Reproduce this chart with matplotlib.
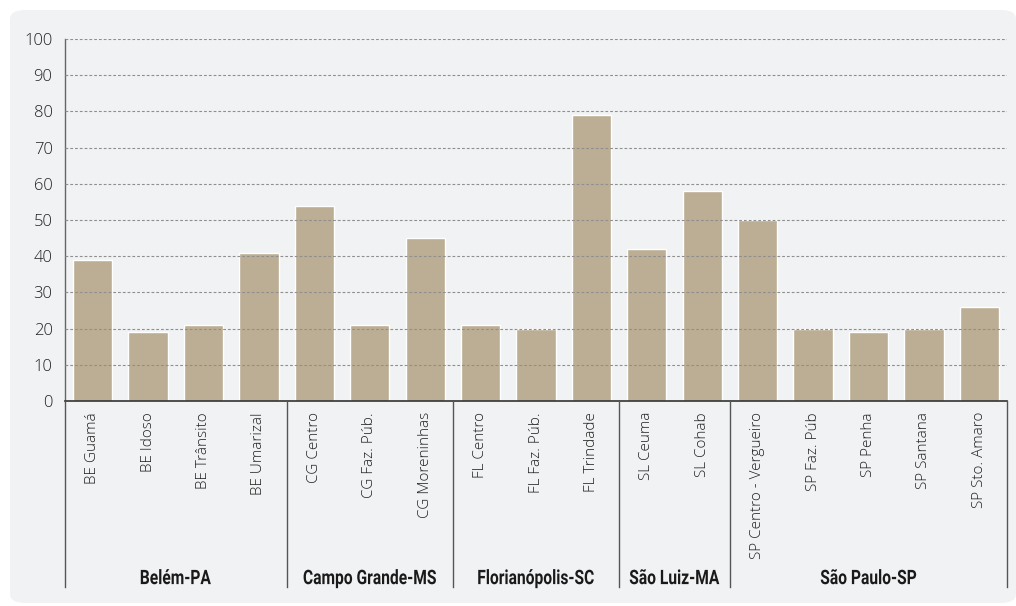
import matplotlib
matplotlib.use("Agg")
import matplotlib.pyplot as plt
import matplotlib.transforms as mtransforms
from matplotlib.patches import FancyBboxPatch, PathPatch
from matplotlib.textpath import TextPath
from matplotlib.font_manager import FontProperties

# data
labels = [
    "BE Guamá", "BE Idoso", "BE Trânsito", "BE Umarizal",
    "CG Centro", "CG Faz. Púb.", "CG Moreninhas",
    "FL Centro", "FL Faz. Púb.", "FL Trindade",
    "SL Ceuma", "SL Cohab",
    "SP Centro - Vergueiro", "SP Faz. Púb", "SP Penha", "SP Santana", "SP Sto. Amaro",
]
values = [39, 19, 21, 41, 54, 21, 45, 21, 20, 79, 42, 58, 50, 20, 19, 20, 26]
groups = ["Belém-PA", "Campo Grande-MS", "Florianópolis-SC", "São Luiz-MA", "São Paulo-SP"]
group_sizes = [4, 3, 3, 2, 5]

W, H = 1016, 606
fig = plt.figure(figsize=(W / 100, H / 100), dpi=100)
fig.patch.set_facecolor("white")

# rounded light panel behind the chart
bg = FancyBboxPatch((10 / W, 3 / H), (W - 10) / W, (H - 13) / H,
                    boxstyle="round,pad=0,rounding_size=0.015",
                    transform=fig.transFigure, facecolor="#f1f2f4",
                    edgecolor="none", zorder=-5)
fig.patches.append(bg)

x0, x1, y0, y1 = 65, 1007, 401, 39
ax = fig.add_axes([x0 / W, (H - y0) / H, (x1 - x0) / W, (y0 - y1) / H])
ax.set_zorder(2)
ax.set_facecolor("none")

x = list(range(len(values)))
ax.bar(x, values, width=0.71, color="#bcae94", edgecolor="white",
       linewidth=1.0, zorder=2)

ax.set_xlim(-0.5, len(values) - 0.5)
ax.set_ylim(0, 100)
for v in range(10, 101, 10):
    ax.axhline(v, color="#8f8f8f", linestyle=(0, (2.5, 1.8)), linewidth=0.8, zorder=3)

tick_font = "Open Sans"
ax.set_yticks(range(0, 101, 10))
ax.set_yticklabels([str(v) for v in range(0, 101, 10)], fontsize=12,
                   family=tick_font, fontweight="light", color="#222222")
ax.tick_params(axis="y", length=0, pad=9)
ax.set_xticks(x)
ax.set_xticklabels(labels, rotation=90, fontsize=11, family=tick_font,
                   fontweight="light", color="#222222", va="top")
ax.tick_params(axis="x", length=0, pad=8)

for s in ["top", "right"]:
    ax.spines[s].set_visible(False)
ax.spines["left"].set_color("#666666")
ax.spines["bottom"].set_color("#333333")
ax.spines["left"].set_linewidth(1.0)
ax.spines["bottom"].set_linewidth(1.2)

# group separators below the axis
trans = mtransforms.blended_transform_factory(ax.transData, ax.transAxes)
depth = -(587 - y0) / (y0 - y1)
bounds = [-0.5]
for n in group_sizes:
    bounds.append(bounds[-1] + n)
for b in bounds:
    ax.plot([b, b], [0, depth], color="#555555", linewidth=1.0,
            transform=trans, clip_on=False, zorder=4)

# condensed bold group labels (horizontally squeezed text paths)
bold = FontProperties(family="Roboto", weight="bold")
size = 20
squeeze = 0.78
label_px = 577
for g, a, b in zip(groups, bounds[:-1], bounds[1:]):
    tp = TextPath((0, 0), g, size=size, prop=bold)
    ext = tp.get_extents()
    cap = TextPath((0, 0), "M", size=size, prop=bold).get_extents()
    cx = ax.transData.transform(((a + b) / 2, 0))[0]
    cy = H - label_px
    tr = (mtransforms.Affine2D()
          .translate(-(ext.x0 + ext.width / 2), -(cap.y0 + cap.height / 2))
          .scale(squeeze, 1.0)
          .translate(cx, cy))
    fig.add_artist(PathPatch(tp, transform=tr, facecolor="#1a1a1a",
                             edgecolor="none", zorder=5))

fig.savefig("out.png", dpi=100, facecolor=fig.get_facecolor())
